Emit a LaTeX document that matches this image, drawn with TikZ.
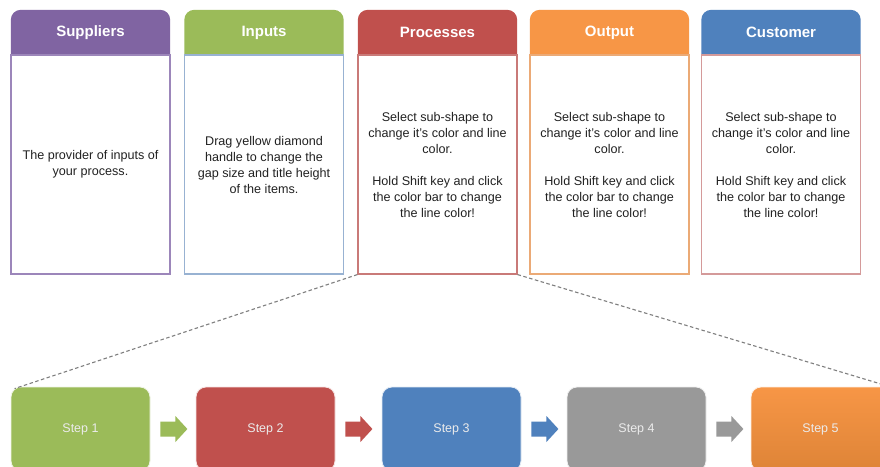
\documentclass[tikz,border=0pt]{standalone}
\usepackage{fontspec}
\setmainfont{Liberation Sans}
\usetikzlibrary{calc,backgrounds}

\definecolor{cPurple}{HTML}{8064A2}
\definecolor{cGreen}{HTML}{9BBB59}
\definecolor{cRed}{HTML}{C0504D}
\definecolor{cOrange}{HTML}{F79646}
\definecolor{cOrangeDark}{HTML}{DE8437}
\definecolor{cBlue}{HTML}{4F81BD}
\definecolor{cGrey}{HTML}{999999}
\definecolor{bPurple}{HTML}{9C86BA}
\definecolor{bBlue}{HTML}{98B2D2}
\definecolor{bRed}{HTML}{C97A78}
\definecolor{bOrange}{HTML}{EBAA76}
\definecolor{bPink}{HTML}{D49A9A}
\definecolor{txt}{HTML}{222222}
\definecolor{dashgrey}{HTML}{7F7F7F}

\tikzset{
  x=1pt, y=1pt,
  headbox/.style={minimum width=159pt, minimum height=45pt, inner sep=0pt,
    text=white, font=\fontsize{15}{18}\selectfont\bfseries},
  bodybox/.style={draw=#1, line width=1.2pt, fill=white, minimum width=159pt,
    minimum height=219pt, inner sep=0pt, align=center, text=txt,
    font=\fontsize{12.6}{16}\selectfont},
  stepbox/.style={fill=#1, draw=white!85!#1, line width=0.8pt, rounded corners=10pt,
    minimum width=139pt, minimum height=84pt, inner sep=0pt,
    text=white!92!black, font=\fontsize{12.5}{15}\selectfont},
  zoomline/.style={draw=dashgrey, line width=1.1pt, dash pattern=on 3.5pt off 2.5pt}
}

% header bar with rounded top corners, filled behind its text
\newcommand{\headfill}[2]{%
  \begin{scope}[on background layer]
    \fill[#2] (#1.south west) {[rounded corners=10pt] -- (#1.north west) -- (#1.north east)} -- (#1.south east) -- cycle;
  \end{scope}}

% block arrow between two step boxes
\newcommand{\steparrow}[3]{%
  \fill[#3] ($(#1.east)+(10,7.5)$) -- ($(#1.east)+(25,7.5)$) -- ($(#1.east)+(25,13)$)
    -- ($(#1.east)+(37,0)$) -- ($(#1.east)+(25,-13)$) -- ($(#1.east)+(25,-7.5)$)
    -- ($(#1.east)+(10,-7.5)$) -- cycle;}

\begin{document}
\begin{tikzpicture}
\useasboundingbox (0,0) rectangle (880,466);
\clip (0,0) rectangle (880,466);
\begin{scope}[on background layer]
  \fill[white] (0,0) rectangle (880,466);
\end{scope}

% SIPOC columns
\node[bodybox=bPurple] (b1) at (90.5,301.5) {The provider of inputs of\\your process.};
\node[bodybox=bBlue] (b2) at (264,301.5) {Drag yellow diamond\\handle to change the\\gap size and title height\\of the items.};
\node[bodybox=bRed] (b3) at (437.5,301.5) {Select sub-shape to\\change it's color and line\\color.\\[16pt]Hold Shift key and click\\the color bar to change\\the line color!};
\node[bodybox=bOrange] (b4) at (609.5,301.5) {Select sub-shape to\\change it's color and line\\color.\\[16pt]Hold Shift key and click\\the color bar to change\\the line color!};
\node[bodybox=bPink] (b5) at (781,301.5) {Select sub-shape to\\change it's color and line\\color.\\[16pt]Hold Shift key and click\\the color bar to change\\the line color!};

\node[headbox] (h1) at (90.5,433.5) {Suppliers};
\node[headbox] (h2) at (264,433.5) {Inputs};
\node[headbox] (h3) at (437.5,433.5) {Processes};
\node[headbox] (h4) at (609.5,433.5) {Output};
\node[headbox] (h5) at (781,433.5) {Customer};
\headfill{h1}{cPurple}
\headfill{h2}{cGreen}
\headfill{h3}{cRed}
\headfill{h4}{cOrange}
\headfill{h5}{cBlue}

% process steps
\node[stepbox=cGreen] (s1) at (80.5,37) {Step 1};
\node[stepbox=cRed] (s2) at (265.5,37) {Step 2};
\node[stepbox=cBlue] (s3) at (451.5,37) {Step 3};
\node[stepbox=cGrey] (s4) at (636.5,37) {Step 4};
\shade[top color=cOrange, bottom color=cOrangeDark, rounded corners=10pt, draw=white!85!cOrange, line width=0.8pt]
  (751,-5) rectangle (890,79);
\node[minimum width=139pt, minimum height=84pt, inner sep=0pt, text=white!92!black,
  font=\fontsize{12.5}{15}\selectfont] (s5) at (820.5,37) {Step 5};

\steparrow{s1}{s2}{cGreen}
\steparrow{s2}{s3}{cRed}
\steparrow{s3}{s4}{cBlue}
\steparrow{s4}{s5}{cGrey}

% zoom lines from the Processes column to the steps
\draw[zoomline] (b3.south west) -- ($(s1.north west)+(4,-2)$);
\draw[zoomline] (b3.south east) -- (s5.north east);
\end{tikzpicture}
\end{document}
